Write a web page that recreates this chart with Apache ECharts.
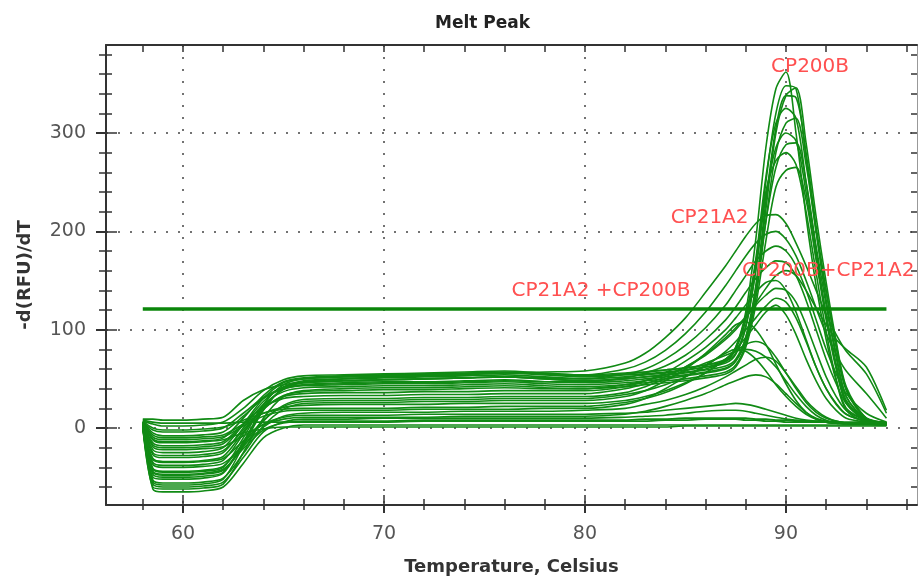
<!DOCTYPE html>
<html>
<head>
<meta charset="utf-8">
<script src="https://cdn.jsdelivr.net/npm/echarts@6/dist/echarts.min.js"></script>
<style>
  html, body { margin: 0; padding: 0; background: #fff; }
  #chart { width: 919px; height: 583px; }
</style>
</head>
<body>
<div id="chart"></div>
<script>
// temperature steps shared by every melt curve
var temps = [58, 58.5, 59, 60, 61, 62, 63, 64, 65, 66,
  68, 70, 72, 74, 76, 78, 80,
  82, 83, 84, 85, 86, 87,
  87.5, 88, 88.5, 89, 89.5, 90, 90.5, 91, 91.5, 92, 92.5, 93,
  94, 95]

// sharp CP200B peaks (~90 C)
var cp200bCurves = [
  [4, -17, -20, -20, -19, -16, 3, 27, 42, 46, 48, 49, 50, 51, 52, 50, 48, 50, 52, 54, 57, 60, 68, 82, 118, 192, 285, 345, 362, 300, 215, 145, 90, 48, 18, 6, 4],
  [3, -42, -45, -45, -44, -40, -10, 24, 44, 50, 52, 53, 54, 55, 56, 54, 52, 54, 55, 57, 59, 62, 66, 75, 102, 162, 250, 320, 348, 345, 275, 200, 130, 75, 32, 8, 5],
  [6, -5, -8, -8, -7, -4, 12, 30, 40, 43, 44, 45, 45, 46, 47, 45, 44, 46, 48, 50, 53, 56, 60, 68, 92, 145, 230, 305, 338, 336, 280, 205, 140, 82, 38, 9, 5],
  [2, -55, -58, -58, -57, -52, -18, 18, 41, 48, 50, 51, 52, 53, 54, 52, 50, 52, 54, 56, 59, 62, 68, 80, 110, 172, 255, 310, 325, 315, 250, 180, 115, 62, 26, 7, 4],
  [5, -27, -30, -30, -29, -25, 0, 24, 37, 41, 42, 43, 43, 44, 45, 43, 42, 44, 46, 48, 50, 53, 57, 64, 85, 132, 210, 280, 310, 315, 268, 200, 138, 85, 40, 10, 6],
  [7, 4, 2, 2, 3, 6, 20, 38, 49, 53, 54, 55, 56, 57, 58, 56, 54, 56, 57, 59, 61, 64, 68, 76, 104, 160, 236, 285, 300, 292, 240, 172, 110, 60, 25, 8, 5],
  [4, -35, -38, -38, -37, -33, -6, 22, 39, 44, 46, 47, 47, 48, 49, 47, 46, 48, 50, 52, 54, 57, 61, 68, 88, 138, 210, 265, 288, 290, 250, 185, 125, 72, 32, 9, 5],
  [5, -11, -14, -14, -13, -10, 10, 33, 47, 51, 53, 54, 55, 56, 57, 55, 53, 55, 57, 59, 61, 64, 70, 82, 114, 168, 240, 272, 280, 268, 220, 158, 98, 50, 20, 8, 4],
  [2, -47, -50, -50, -49, -45, -14, 20, 40, 46, 48, 49, 50, 51, 52, 50, 48, 50, 52, 54, 56, 59, 63, 70, 92, 140, 222, 300, 338, 346, 290, 215, 148, 88, 42, 10, 5],
  [1, -60, -62, -62, -61, -57, -25, 10, 32, 38, 40, 41, 41, 42, 43, 41, 40, 42, 44, 46, 48, 51, 55, 62, 82, 125, 190, 245, 262, 265, 232, 172, 115, 65, 28, 8, 5]
]

// broad CP21A2 peaks (~89.5 C)
var cp21a2Curves = [
  [9, 9, 8, 8, 9, 11, 28, 39, 44, 47, 50, 52, 53, 54, 56, 57, 58, 66, 76, 92, 112, 138, 165, 180, 195, 208, 216, 217, 208, 188, 165, 140, 115, 95, 78, 55, 15],
  [4, -22, -25, -25, -24, -20, 4, 30, 46, 50, 52, 53, 54, 55, 56, 55, 54, 60, 67, 79, 96, 118, 145, 160, 175, 188, 197, 200, 192, 175, 150, 122, 96, 75, 58, 35, 10],
  [2, -50, -52, -52, -51, -46, -15, 19, 40, 46, 48, 49, 50, 51, 52, 51, 50, 55, 60, 70, 84, 102, 125, 140, 155, 170, 180, 185, 180, 165, 140, 110, 80, 55, 35, 15, 6],
  [6, -2, -4, -4, -3, 0, 15, 31, 41, 44, 45, 46, 46, 47, 48, 47, 47, 51, 56, 63, 74, 90, 110, 123, 138, 152, 163, 170, 168, 155, 130, 100, 70, 45, 25, 10, 5],
  [4, -31, -34, -34, -33, -29, -4, 19, 33, 37, 38, 39, 39, 40, 41, 40, 40, 44, 48, 54, 62, 74, 90, 100, 112, 127, 142, 155, 160, 155, 140, 122, 105, 90, 80, 62, 18]
]

// CP200B + CP21A2 mixtures
var mixedCurves = [
  [5, -15, -18, -18, -17, -14, 4, 21, 30, 32, 33, 33, 34, 34, 35, 35, 35, 40, 45, 52, 62, 75, 92, 102, 113, 125, 135, 142, 140, 128, 105, 78, 52, 32, 18, 8, 5],
  [3, -41, -44, -44, -43, -39, -16, 8, 22, 27, 28, 28, 29, 29, 30, 30, 30, 34, 38, 44, 52, 63, 78, 88, 100, 112, 124, 132, 128, 112, 88, 62, 40, 24, 14, 7, 5],
  [6, -7, -10, -10, -9, -7, 4, 15, 21, 23, 24, 24, 24, 25, 25, 25, 25, 28, 32, 38, 46, 56, 70, 80, 92, 105, 118, 125, 115, 95, 70, 48, 30, 18, 10, 6, 4],
  [4, -25, -28, -28, -27, -23, -2, 20, 32, 35, 36, 36, 37, 37, 38, 38, 38, 42, 48, 56, 68, 82, 100, 112, 125, 138, 148, 150, 140, 118, 90, 62, 40, 25, 14, 7, 5]
]

// weaker curves peaking around 87-89 C
var fanCurves = [
  [2, -53, -56, -56, -55, -51, -26, 2, 19, 25, 26, 26, 27, 27, 28, 28, 28, 32, 38, 48, 60, 76, 95, 105, 108, 100, 85, 65, 45, 28, 16, 9, 6, 5, 4, 4, 3],
  [7, 0, -2, -2, -1, 1, 8, 15, 19, 20, 20, 20, 21, 21, 22, 22, 22, 26, 30, 36, 45, 56, 70, 78, 85, 88, 84, 72, 56, 40, 26, 16, 10, 7, 5, 4, 3],
  [3, -37, -40, -40, -39, -36, -18, 1, 12, 15, 16, 16, 16, 17, 17, 17, 18, 20, 24, 28, 34, 42, 52, 58, 64, 70, 72, 68, 56, 42, 28, 18, 11, 7, 5, 4, 3],
  [5, -19, -22, -22, -21, -19, -8, 3, 9, 11, 11, 11, 11, 12, 12, 12, 12, 14, 17, 22, 28, 35, 44, 48, 52, 54, 52, 45, 35, 25, 16, 10, 7, 5, 5, 4, 3],
  [2, -45, -48, -48, -47, -43, -19, 7, 23, 29, 30, 30, 31, 31, 32, 32, 32, 36, 42, 50, 58, 66, 74, 78, 80, 78, 72, 62, 48, 34, 22, 13, 8, 6, 5, 4, 3],
  [6, -9, -12, -12, -11, -9, 2, 12, 17, 18, 18, 18, 19, 19, 19, 20, 20, 24, 30, 40, 52, 64, 76, 80, 78, 70, 58, 44, 32, 22, 14, 9, 6, 5, 4, 4, 3]
]

// near-flat / negative wells
var lowCurves = [
  [1, -62, -65, -65, -64, -60, -36, -10, 0, 3, 3, 3, 3, 3, 3, 3, 3, 3, 3, 3, 3, 3, 3, 3, 3, 3, 3, 3, 3, 3, 3, 3, 3, 3, 3, 3, 3],
  [8, 6, 5, 5, 5, 5, 6, 6, 6, 6, 6, 6, 7, 7, 7, 7, 7, 7, 7, 8, 8, 9, 9, 9, 8, 8, 7, 7, 6, 6, 6, 6, 6, 5, 5, 5, 5],
  [1, -57, -60, -60, -59, -55, -30, -4, 6, 9, 9, 10, 10, 10, 10, 10, 10, 11, 12, 13, 15, 17, 18, 18, 17, 15, 13, 11, 9, 8, 7, 6, 6, 5, 5, 5, 4],
  [4, -32, -35, -35, -34, -31, -13, 4, 11, 13, 13, 13, 14, 14, 14, 14, 14, 15, 16, 18, 20, 22, 24, 25, 24, 22, 19, 16, 13, 10, 8, 7, 6, 5, 5, 4, 4],
  [5, -12, -15, -15, -14, -12, -5, -1, 1, 1, 1, 1, 1, 1, 1, 1, 1, 1, 1, 1, 2, 2, 2, 2, 2, 2, 2, 2, 2, 2, 2, 2, 2, 2, 2, 2, 2],
  [2, -44, -47, -47, -46, -42, -21, -2, 5, 7, 7, 7, 8, 8, 8, 8, 8, 8, 9, 9, 10, 10, 10, 10, 10, 9, 9, 8, 8, 7, 7, 7, 6, 6, 6, 6, 5]
]

var threshold = 121
var thresholdRange = [58, 95]

var xMajor = [60, 70, 80, 90]
var xMinor = [58, 60, 62, 64, 66, 68, 70, 72, 74, 76, 78, 80, 82, 84, 86, 88, 90, 92, 94, 96]
var yMajor = [0, 100, 200, 300]
var yMinor = [-60, -40, -20, 0, 20, 40, 60, 80, 100, 120, 140, 160, 180, 200, 220, 240, 260, 280, 300, 320, 340, 360, 380]

var peakNames = ['CP200B', 'CP21A2', 'CP200B+CP21A2', 'CP21A2 +CP200B']
var peakSpots = [[91.2, 367], [86.2, 214], [92.1, 160], [80.8, 140]]

var FONT = 'DejaVu Sans'
var X_MIN = 56.17, X_MAX = 96.52, Y_MIN = -78.3, Y_MAX = 389.5
var axisColor = '#333'
var lineGreen = '#108a14'

var chart = echarts.init(document.getElementById('chart'))

function tickAxis(pos, values, inside, len, isX) {
  return {
    type: 'value', position: pos,
    min: isX ? X_MIN : Y_MIN, max: isX ? X_MAX : Y_MAX,
    axisLine: { show: false, onZero: false },
    axisTick: { show: true, customValues: values, inside: inside, length: len, lineStyle: { color: axisColor, width: 1.5 } },
    axisLabel: { show: false },
    splitLine: { show: false }
  }
}

var allCurves = [].concat(cp200bCurves, cp21a2Curves, mixedCurves, fanCurves, lowCurves)
var series = allCurves.map(function (c) {
  return {
    type: 'line',
    data: temps.map(function (t, i) { return [t, c[i]] }),
    smooth: 0.3,
    showSymbol: false,
    silent: true,
    lineStyle: { color: lineGreen, width: 1.6 },
    z: 2
  }
})

series.push({
  type: 'line',
  data: [[thresholdRange[0], threshold], [thresholdRange[1], threshold]],
  showSymbol: false,
  silent: true,
  lineStyle: { color: '#0a860a', width: 3.5 },
  z: 5,
  markPoint: {
    symbol: 'circle', symbolSize: 0, silent: true,
    label: { show: true, position: 'inside', formatter: '{b}', color: '#ff5050', fontSize: 20, fontFamily: FONT },
    data: peakNames.map(function (n, i) { return { name: n, coord: peakSpots[i] } })
  }
})

var option = {
  animation: false,
  backgroundColor: '#fff',
  title: {
    text: 'Melt Peak', left: 430, top: 10,
    textStyle: { fontFamily: FONT, fontWeight: 'bold', fontSize: 17, color: '#222' }
  },
  grid: { left: 106, right: 2, top: 45, bottom: 78, containLabel: false, outerBoundsMode: 'none' },
  xAxis: [
    {
      type: 'value', position: 'bottom', min: X_MIN, max: X_MAX,
      axisLine: { show: true, onZero: false, lineStyle: { color: axisColor, width: 2 } },
      axisTick: { show: true, customValues: xMajor, inside: false, length: 8, lineStyle: { color: axisColor, width: 2 } },
      axisLabel: { customValues: xMajor, margin: 20, fontSize: 19, color: '#555', fontFamily: FONT },
      splitLine: { show: true, lineStyle: { type: [2, 10], color: '#444', width: 1.5 } },
      name: 'Temperature, Celsius', nameLocation: 'middle', nameGap: 53,
      nameTextStyle: { fontFamily: FONT, fontWeight: 'bold', fontSize: 18, color: '#333' }
    },
    tickAxis('bottom', xMajor, true, 10, true),
    tickAxis('bottom', xMinor, false, 5, true),
    tickAxis('bottom', xMinor, true, 6, true),
    (function () {
      var a = tickAxis('top', xMinor, true, 7, true)
      a.axisLine = { show: true, onZero: false, lineStyle: { color: axisColor, width: 2 } }
      return a
    })()
  ],
  yAxis: [
    {
      type: 'value', position: 'left', min: Y_MIN, max: Y_MAX,
      axisLine: { show: true, onZero: false, lineStyle: { color: axisColor, width: 2 } },
      axisTick: { show: true, customValues: yMajor, inside: false, length: 10, lineStyle: { color: axisColor, width: 2 } },
      axisLabel: { customValues: yMajor, margin: 20, fontSize: 19, color: '#555', fontFamily: FONT },
      splitLine: { show: true, lineStyle: { type: [2, 10], color: '#444', width: 1.5 } },
      name: '-d(RFU)/dT', nameLocation: 'middle', nameGap: 72, nameRotate: 90,
      nameTextStyle: { fontFamily: FONT, fontWeight: 'bold', fontSize: 18, color: '#333' }
    },
    tickAxis('left', yMajor, true, 11, false),
    tickAxis('left', yMinor, false, 7, false),
    tickAxis('left', yMinor, true, 6, false),
    (function () {
      var a = tickAxis('right', yMinor, true, 6, false)
      a.axisLine = { show: true, onZero: false, lineStyle: { color: '#999', width: 1 } }
      return a
    })()
  ],
  series: series
}

chart.setOption(option)
</script>
</body>
</html>
